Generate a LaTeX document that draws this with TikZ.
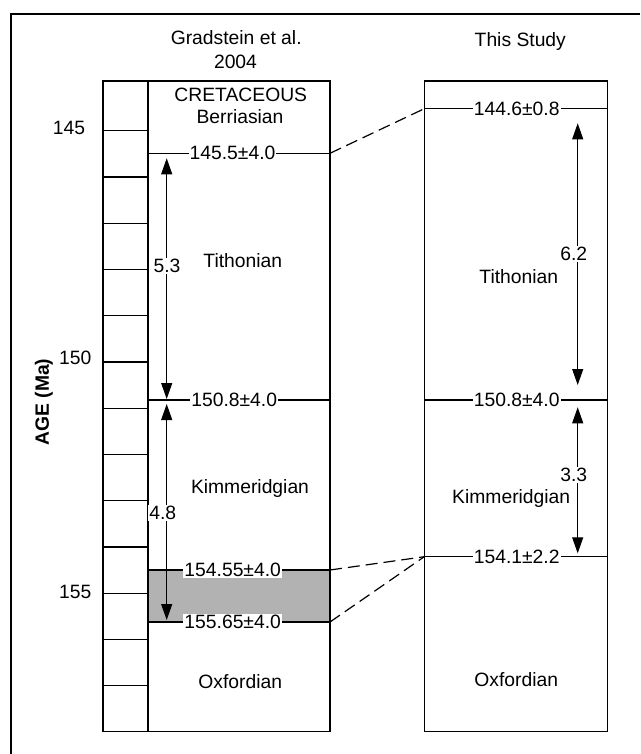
\documentclass[tikz,border=0pt]{standalone}
\usepackage{fontspec}
\setmainfont{Liberation Sans}
\usetikzlibrary{arrows.meta}
\definecolor{bandgray}{RGB}{178,178,178}
\begin{document}
\begin{tikzpicture}[x=1pt,y=-1pt,
  txt/.style={font=\fontsize{19.3}{23}\selectfont, inner sep=0pt},
  lbl/.style={txt, fill=white, inner sep=1pt},
  col/.style={line width=1.3pt},
  bnd/.style={line width=1.1pt},
  rng/.style={line width=1pt, {Triangle[length=16pt,width=11pt]}-{Triangle[length=16pt,width=11pt]}},
  corr/.style={line width=1.2pt, dash pattern=on 12pt off 6pt}]
\useasboundingbox (0,0) rectangle (640,754);
% outer frame (cropped)
\draw[line width=1.3pt] (11,754) -- (11,14) -- (640,14);

% headers
\node[txt, anchor=base] (hG1) at (236.2,45) {Gradstein et al.};
\node[txt, anchor=base] (hG2) at (235.5,68.3) {2004};
\node[txt, anchor=base] (hS) at (520.3,46.7) {This Study};

% axis
\node[txt, font=\fontsize{19.3}{23}\selectfont\bfseries, rotate=90] (axis) at (44,402) {AGE (Ma)};
\node[txt] (t145) at (69,128.3) {145};
\node[txt] (t150) at (75.3,358) {150};
\node[txt] (t155) at (75.3,592.3) {155};

% left column
\fill[bandgray] (148,570) rectangle (330,622);
\draw[col] (103,81) rectangle (148,731.7);
\draw[col] (148,81) rectangle (330,731.7);
\foreach \k in {0,...,12} {
  \draw[col] (103,130.7+\k*46.25) -- (148,130.7+\k*46.25);
}
\coordinate (LaW) at (148,153.3); \coordinate (LaE) at (330,153.3);
\coordinate (LbW) at (148,400);   \coordinate (LbE) at (330,400);
\coordinate (LcW) at (148,570);   \coordinate (LcE) at (330,570);
\coordinate (LdW) at (148,622);   \coordinate (LdE) at (330,622);
\draw[bnd] (LaW) -- (LaE);
\draw[bnd] (LbW) -- (LbE);
\draw[bnd] (LcW) -- (LcE);
\draw[bnd] (LdW) -- (LdE);

\node[txt, anchor=base] (cret) at (240.8,101.7) {CRETACEOUS};
\node[txt, anchor=base] (berr) at (240,124) {Berriasian};
\node[txt, anchor=base] (tithL) at (242.8,267.3) {Tithonian};
\node[txt, anchor=base] (kimL) at (250,493.3) {Kimmeridgian};
\node[txt, anchor=base] (oxfL) at (240.3,688.3) {Oxfordian};

% left arrows
\coordinate (a1t) at (166.7,158.3); \coordinate (a1b) at (166.7,399);
\coordinate (a2t) at (166.7,404);   \coordinate (a2b) at (166.7,620);
\draw[rng] (a1t) -- (a1b);
\draw[rng] (a2t) -- (a2b);
\node[lbl] (d53) at (167,265.8) {5.3};
\node[lbl] (d48) at (162.7,512.7) {4.8};

\node[lbl] (la) at (232.5,153.3) {145.5±4.0};
\node[lbl] (lb) at (234.2,400) {150.8±4.0};
\node[lbl] (lc) at (232.7,570) {154.55±4.0};
\node[lbl] (ld) at (232.7,622) {155.65±4.0};

% right column
\draw[col] (424.3,81) rectangle (607.3,731.7);
\coordinate (RaW) at (424.3,108.7); \coordinate (RaE) at (607.3,108.7);
\coordinate (RbW) at (424.3,400);   \coordinate (RbE) at (607.3,400);
\coordinate (RcW) at (424.3,556.7); \coordinate (RcE) at (607.3,556.7);
\draw[bnd] (RaW) -- (RaE);
\draw[bnd] (RbW) -- (RbE);
\draw[bnd] (RcW) -- (RcE);
\node[lbl] (ra) at (516.7,108.7) {144.6±0.8};
\node[lbl] (rb) at (516.7,400) {150.8±4.0};
\node[lbl] (rc) at (516.7,556.7) {154.1±2.2};

\coordinate (b1t) at (577.7,123.3); \coordinate (b1b) at (577.7,385);
\coordinate (b2t) at (577.7,407.3); \coordinate (b2b) at (577.7,553.3);
\draw[rng] (b1t) -- (b1b);
\draw[rng] (b2t) -- (b2b);
\node[lbl] (d62) at (573.7,254) {6.2};
\node[lbl] (d33) at (573.7,475.3) {3.3};

\node[txt, anchor=base] (tithR) at (518.8,283.3) {Tithonian};
\node[txt, anchor=base] (kimR) at (511.2,503.3) {Kimmeridgian};
\node[txt, anchor=base] (oxfR) at (516.2,686.7) {Oxfordian};

% correlation lines
\draw[corr] (LaE) -- (RaW);
\draw[corr] (LcE) -- (RcW);
\draw[corr] (LdE) -- (RcW);
\end{tikzpicture}
\end{document}
